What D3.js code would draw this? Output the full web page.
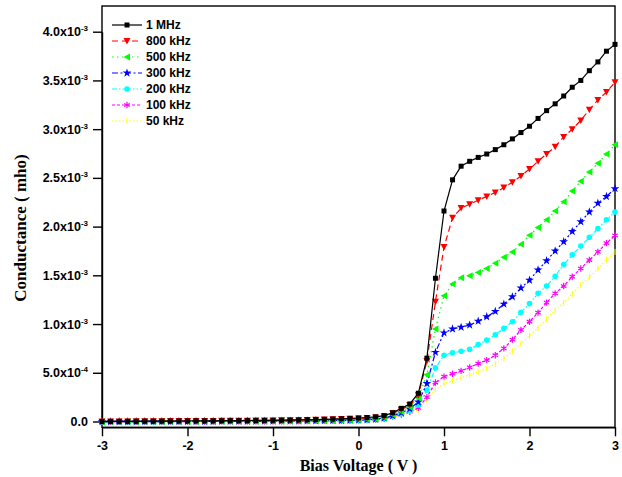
<!DOCTYPE html>
<html><head><meta charset="utf-8">
<script src="https://cdn.jsdelivr.net/npm/d3@7"></script>
<style>
html,body{margin:0;padding:0;background:#fff;}
svg{display:block;}
</style></head>
<body>
<svg id="chart" width="622" height="477"></svg>
<script>
// Bias voltage (V)
const voltage = [-3.0,-2.9,-2.8,-2.7,-2.6,-2.5,-2.4,-2.3,-2.2,-2.1,
 -2.0,-1.9,-1.8,-1.7,-1.6,-1.5,-1.4,-1.3,-1.2,-1.1,
 -1.0,-0.9,-0.8,-0.7,-0.6,-0.5,-0.4,-0.3,-0.2,-0.1,
 0.0,0.1,0.2,0.3,0.4,0.5,0.6,0.7,0.8,0.9,
 1.0,1.1,1.2,1.3,1.4,1.5,1.6,1.7,1.8,1.9,
 2.0,2.1,2.2,2.3,2.4,2.5,2.6,2.7,2.8,2.9,3.0];

// Conductance values in units of 1e-3 mho
const g1MHz = [0.000,0.001,0.001,0.002,0.002,0.003,0.003,0.004,0.004,0.005,
 0.005,0.006,0.006,0.007,0.007,0.008,0.008,0.009,0.010,0.011,
 0.012,0.013,0.014,0.016,0.018,0.020,0.022,0.025,0.028,0.032,
 0.036,0.041,0.048,0.060,0.090,0.135,0.180,0.290,0.650,1.470,
 2.160,2.480,2.620,2.670,2.710,2.745,2.790,2.840,2.900,2.965,
 3.030,3.110,3.190,3.260,3.340,3.430,3.500,3.600,3.690,3.800,3.870];
const g800k = [0.000,0.000,0.001,0.001,0.002,0.002,0.003,0.003,0.004,0.004,
 0.005,0.005,0.006,0.006,0.007,0.007,0.008,0.008,0.009,0.010,
 0.011,0.012,0.013,0.014,0.016,0.018,0.020,0.022,0.025,0.028,
 0.032,0.036,0.042,0.054,0.085,0.120,0.170,0.270,0.620,1.230,
 1.790,2.090,2.190,2.230,2.270,2.310,2.350,2.400,2.455,2.520,
 2.590,2.670,2.745,2.820,2.920,3.000,3.090,3.200,3.300,3.380,3.480];
const g500k = [-0.002,-0.002,-0.001,-0.001,-0.001,0.000,0.000,0.000,0.001,0.001,
 0.001,0.002,0.002,0.002,0.003,0.003,0.003,0.004,0.004,0.005,
 0.005,0.006,0.006,0.007,0.008,0.009,0.010,0.011,0.013,0.015,
 0.018,0.022,0.028,0.040,0.070,0.100,0.150,0.240,0.480,0.950,
 1.290,1.410,1.475,1.495,1.530,1.570,1.625,1.685,1.740,1.820,
 1.910,1.990,2.070,2.160,2.255,2.365,2.465,2.560,2.650,2.745,2.840];
const g300k = [-0.003,-0.003,-0.002,-0.002,-0.002,-0.001,-0.001,-0.001,0.000,0.000,
 0.000,0.001,0.001,0.001,0.002,0.002,0.002,0.003,0.003,0.004,
 0.004,0.005,0.005,0.006,0.007,0.008,0.009,0.010,0.011,0.013,
 0.015,0.019,0.024,0.035,0.060,0.090,0.130,0.200,0.390,0.710,
 0.910,0.950,0.967,0.990,1.030,1.075,1.130,1.205,1.280,1.370,
 1.450,1.555,1.650,1.750,1.845,1.950,2.050,2.150,2.240,2.310,2.390];
const g200k = [-0.004,-0.003,-0.003,-0.003,-0.002,-0.002,-0.002,-0.001,-0.001,-0.001,
 0.000,0.000,0.000,0.001,0.001,0.001,0.002,0.002,0.002,0.003,
 0.003,0.004,0.004,0.005,0.006,0.007,0.008,0.009,0.010,0.011,
 0.013,0.016,0.021,0.031,0.055,0.080,0.110,0.170,0.320,0.550,
 0.680,0.706,0.720,0.740,0.790,0.835,0.890,0.956,1.024,1.120,
 1.210,1.315,1.390,1.490,1.610,1.710,1.800,1.890,1.980,2.070,2.150];
const g100k = [-0.004,-0.004,-0.003,-0.003,-0.003,-0.002,-0.002,-0.002,-0.001,-0.001,
 -0.001,0.000,0.000,0.000,0.001,0.001,0.001,0.002,0.002,0.002,
 0.003,0.003,0.004,0.004,0.005,0.006,0.007,0.008,0.009,0.010,
 0.012,0.015,0.019,0.028,0.050,0.070,0.100,0.140,0.250,0.400,
 0.460,0.490,0.520,0.555,0.595,0.630,0.680,0.750,0.840,0.940,
 1.024,1.117,1.220,1.315,1.390,1.486,1.570,1.657,1.740,1.830,1.910];
const g50k = [-0.005,-0.004,-0.004,-0.004,-0.003,-0.003,-0.003,-0.002,-0.002,-0.002,
 -0.001,-0.001,-0.001,0.000,0.000,0.000,0.001,0.001,0.001,0.002,
 0.002,0.003,0.003,0.004,0.004,0.005,0.006,0.007,0.008,0.009,
 0.011,0.013,0.017,0.025,0.045,0.065,0.090,0.120,0.220,0.330,
 0.390,0.420,0.450,0.480,0.510,0.545,0.590,0.650,0.720,0.800,
 0.880,0.960,1.050,1.140,1.220,1.310,1.400,1.480,1.570,1.660,1.740];

const seriesNames = ["1 MHz","800 kHz","500 kHz","300 kHz","200 kHz","100 kHz","50 kHz"];
const seriesValues = [g1MHz,g800k,g500k,g300k,g200k,g100k,g50k];
const seriesColors = ["#000000","#ff0000","#00ff00","#0000ff","#00ffff","#ff00ff","#ffff00"];
const seriesDash = [null,"6,4","1.5,3.5","6,2.5,2,2.5","5,2,1.5,2,1.5,2","3,2","1.5,2"];
const seriesMarker = ["square","triDown","triLeft","star","circle","asterisk","bar"];

const xTicks = [-3,-2,-1,0,1,2,3];
const xTickLabels = ["-3","-2","-1","0","1","2","3"];
const yTicks = [0,0.5,1.0,1.5,2.0,2.5,3.0,3.5,4.0];
const yTickMant = ["0.0","5.0","1.0","1.5","2.0","2.5","3.0","3.5","4.0"];
const yTickExp = ["","-4","-3","-3","-3","-3","-3","-3","-3"];

const svg = d3.select("#chart");
const L=102, R=615, T=6, B=427.3;
const x = d3.scaleLinear().domain([-3,3]).range([L,R]);
const y = d3.scaleLinear().domain([0,4.0]).range([421.5,31.7]);

// frame
svg.append("rect").attr("x",L).attr("y",T).attr("width",R-L).attr("height",B-T)
  .attr("fill","none").attr("stroke","#000").attr("stroke-width",1.4);

// axes
const xAxis = svg.append("g").attr("transform",`translate(0,${B})`)
  .call(d3.axisBottom(x).tickValues(xTicks).tickSize(9).tickSizeOuter(0)
    .tickFormat((d,i)=>xTickLabels[i]));
xAxis.select(".domain").attr("stroke-width",1.4);
xAxis.selectAll(".tick line").attr("stroke-width",1.4);
xAxis.selectAll(".tick text").attr("font-family","Liberation Sans, Arial, sans-serif")
  .attr("font-weight","bold").attr("font-size","12.5px").attr("fill","#000").attr("dy","1.05em").attr("y",10);

const yAxis = svg.append("g").attr("transform",`translate(${L},0)`)
  .call(d3.axisLeft(y).tickValues(yTicks).tickSize(9).tickSizeOuter(0).tickFormat(""));
yAxis.select(".domain").attr("stroke-width",1.4);
yAxis.selectAll(".tick line").attr("stroke-width",1.4);

const yl = svg.append("g");
yTicks.forEach((v,i)=>{
  const t = yl.append("text").attr("x",88).attr("y",y(v)+4.5)
    .attr("text-anchor","end").attr("font-family","Liberation Sans, Arial, sans-serif")
    .attr("font-weight","bold").attr("font-size","12.5px");
  t.append("tspan").text(yTickMant[i] + (yTickExp[i] ? "x10" : ""));
  if (yTickExp[i]) t.append("tspan").attr("font-size","8px").attr("dy","-5").text(yTickExp[i]);
});

// axis titles
svg.append("text").attr("x",(L+R)/2).attr("y",471).attr("text-anchor","middle")
  .attr("font-family","Liberation Serif, Times New Roman, serif").attr("font-weight","bold")
  .attr("font-size","16px").text("Bias Voltage ( V )");
svg.append("text").attr("transform","translate(26,228) rotate(-90)").attr("text-anchor","middle")
  .attr("font-family","Liberation Serif, Times New Roman, serif").attr("font-weight","bold")
  .attr("font-size","17px").text("Conductance ( mho)");

// marker drawing
function drawMarker(g, type, cx, cy, color){
  switch(type){
    case "square":
      g.append("rect").attr("x",cx-2.5).attr("y",cy-2.5).attr("width",5).attr("height",5).attr("fill",color); break;
    case "triDown":
      g.append("path").attr("d",`M${cx-3.5},${cy-3}L${cx+3.5},${cy-3}L${cx},${cy+3.5}Z`).attr("fill",color); break;
    case "triLeft":
      g.append("path").attr("d",`M${cx-3.5},${cy}L${cx+3},${cy-3.5}L${cx+3},${cy+3.5}Z`).attr("fill",color); break;
    case "star":
      g.append("path").attr("d",d3.symbol(d3.symbolStar,24)()).attr("transform",`translate(${cx},${cy})`).attr("fill",color); break;
    case "circle":
      g.append("circle").attr("cx",cx).attr("cy",cy).attr("r",2.8).attr("fill",color); break;
    case "asterisk":
      g.append("path").attr("d",d3.symbol(d3.symbolAsterisk,28)()).attr("transform",`translate(${cx},${cy})`)
        .attr("fill","none").attr("stroke",color).attr("stroke-width",1.2); break;
    case "bar":
      g.append("line").attr("x1",cx).attr("x2",cx).attr("y1",cy-3).attr("y2",cy+3)
        .attr("stroke",color).attr("stroke-width",1); break;
  }
}

const line = d3.line().x(d=>x(d[0])).y(d=>y(d[1]));
const plot = svg.append("g");
for (let s = seriesValues.length-1; s>=0; s--){
  const pts = voltage.map((v,i)=>[v, seriesValues[s][i]]);
  const g = plot.append("g");
  g.append("path").datum(pts).attr("d",line).attr("fill","none")
    .attr("stroke",seriesColors[s]).attr("stroke-width",1.2)
    .attr("stroke-dasharray",seriesDash[s]);
  pts.forEach(p=>drawMarker(g, seriesMarker[s], x(p[0]), y(p[1]), seriesColors[s]));
}

// legend
const lg = svg.append("g");
seriesNames.forEach((n,i)=>{
  const ly = 25 + i*16;
  lg.append("line").attr("x1",112).attr("x2",142).attr("y1",ly).attr("y2",ly)
    .attr("stroke",seriesColors[i]).attr("stroke-width",1.2).attr("stroke-dasharray",seriesDash[i]);
  drawMarker(lg, seriesMarker[i], 127, ly, seriesColors[i]);
  lg.append("text").attr("x",146).attr("y",ly+4.3).attr("font-family","Liberation Sans, Arial, sans-serif")
    .attr("font-weight","bold").attr("font-size","12px").text(n);
});
</script>
</body></html>
